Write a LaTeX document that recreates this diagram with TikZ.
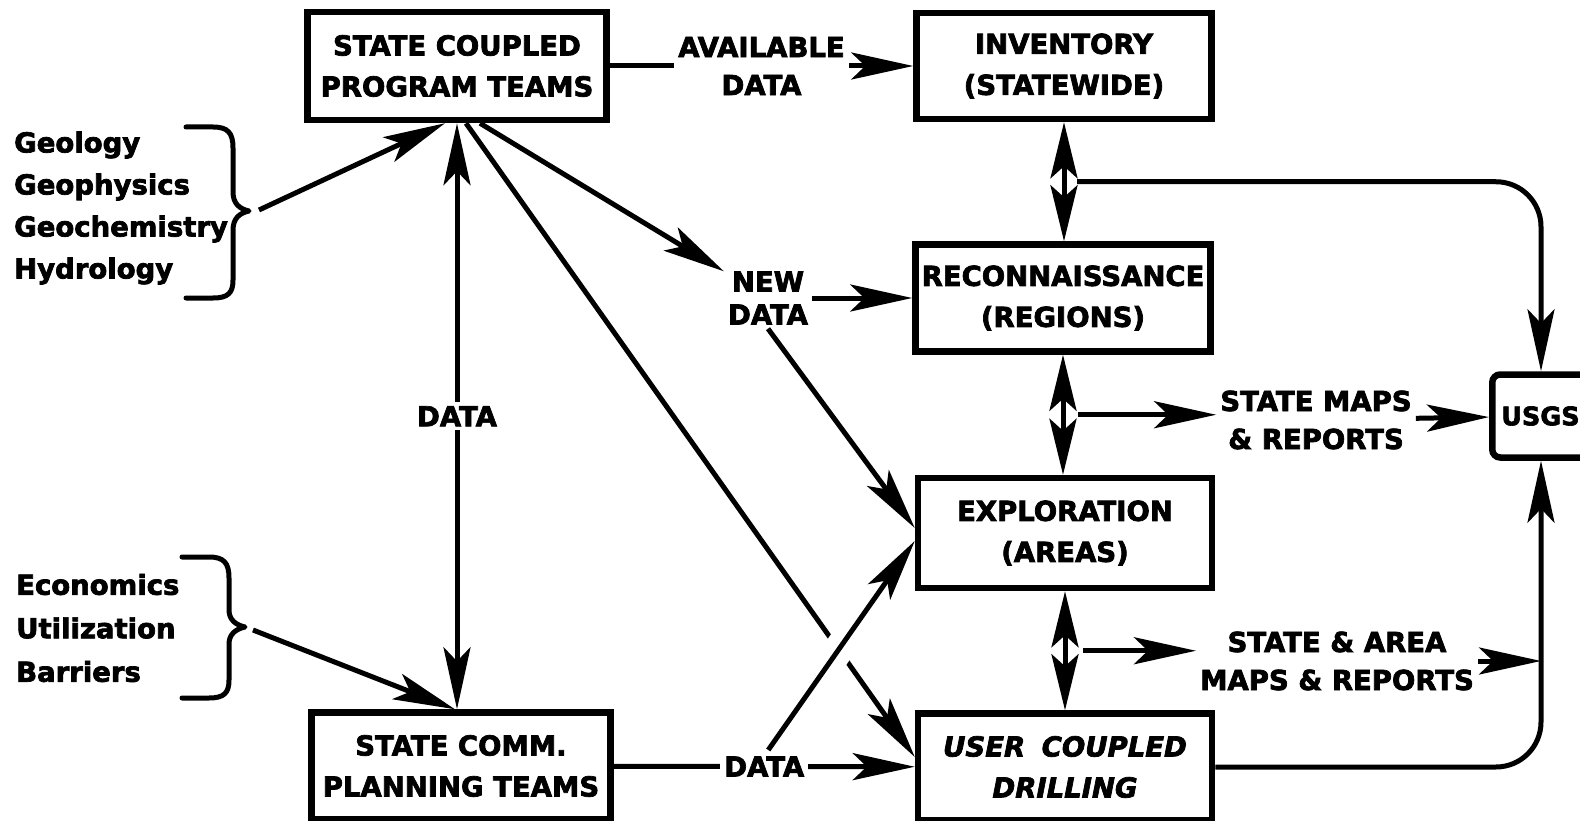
\documentclass[tikz,border=0pt]{standalone}
\usepackage{fontspec}
\setmainfont{DejaVu Sans}[BoldFeatures={FakeBold=2.6},BoldItalicFeatures={FakeBold=2.6}]
\usetikzlibrary{arrows.meta,calc}
\newcommand{\dgfont}{\fontsize{27.5}{41}\selectfont\bfseries}
\newcommand{\dglab}{\fontsize{27.5}{38}\selectfont\bfseries}
\newcommand{\dglist}{\fontsize{27.5}{42}\selectfont\bfseries}
\begin{document}
\begin{tikzpicture}[x=1pt,y=-1pt,
  >={Stealth[length=62pt,width=27pt,inset=14pt]},
  dbl/.style={{Stealth[length=56pt,width=27pt,inset=12pt]}-{Stealth[length=56pt,width=27pt,inset=12pt]}},
  box/.style={draw,line width=6.5pt,inner sep=0pt,align=center,font=\dgfont},
  conn/.style={line width=5pt},
  lab/.style={fill=white,inner sep=4pt,align=center,font=\dglab},
  brace/.style={line width=5pt,line cap=round,line join=round}]
\fill[white] (0,0) rectangle (1580,821);
\useasboundingbox (0,0) rectangle (1580,821);

% boxes
\node[box,minimum width=299pt,minimum height=108pt] (scpt) at (457,66) {STATE COUPLED\\PROGRAM TEAMS};
\node[box,minimum width=295pt,minimum height=106pt] (inv) at (1064,66) {INVENTORY\\(STATEWIDE)};
\node[box,minimum width=295pt,minimum height=107pt] (rec) at (1063,298) {RECONNAISSANCE\\(REGIONS)};
\node[box,minimum width=294pt,minimum height=110pt] (expl) at (1065,533) {EXPLORATION\\(AREAS)};
\node[box,minimum width=294pt,minimum height=107pt,font=\dgfont\itshape] (ucd) at (1065,767) {USER\hspace{0.6em}COUPLED\\DRILLING};
\node[box,minimum width=299pt,minimum height=107pt] (scomm) at (461,766) {STATE COMM.\\PLANNING TEAMS};
\node[box,rounded corners=8pt,anchor=west,minimum height=83pt,text width=100pt,align=left,inner xsep=9pt,font=\fontsize{25.5}{30}\selectfont\bfseries] (usgs) at (1489,416) {USGS};

% lists
\node[anchor=west,align=left,font=\dglist,inner sep=0pt] (geo) at (14,208) {Geology\\Geophysics\\Geochemistry\\Hydrology};
\node[anchor=west,align=left,font=\fontsize{27.5}{43.5}\selectfont\bfseries,inner sep=0pt] (eco) at (16,628) {Economics\\Utilization\\Barriers};

% braces
\draw[brace] (186,127) -- (213,127) .. controls (228,127) and (233,133) .. (233,148) -- (233,192) .. controls (233,204) and (240,209) .. (249,211) .. controls (240,213) and (233,218) .. (233,230) -- (233,280) .. controls (233,293) and (228,298) .. (213,298) -- (186,298);
\coordinate (b1) at (259,210);
\draw[brace] (182,557) -- (209,557) .. controls (224,557) and (229,563) .. (229,578) -- (229,610) .. controls (229,620) and (236,625) .. (245,627) .. controls (236,629) and (229,634) .. (229,644) -- (229,680) .. controls (229,693) and (224,698) .. (209,698) -- (182,698);
\coordinate (b2) at (253,630);

% labels
\node[lab,font=\fontsize{27.5}{33}\selectfont\bfseries] (newd) at (768,298) {NEW\\DATA};
\node[lab] (smr) at (1316,420) {STATE MAPS\\\& REPORTS};
\node[lab] (sa) at (1337,661) {STATE \& AREA\\MAPS \& REPORTS};
\coordinate (ux) at (1541,0);

% left connectors
\draw[conn,->] (b1) -- ($(scpt.south)+(-12,0)$);
\draw[conn,->] (b2) -- ($(scomm.north)+(-6,0)$);
\draw[conn,<->] (scpt.south) -- node[lab]{DATA} (scpt.south |- scomm.north);
\draw[conn,->] (scpt) -- node[lab]{AVAILABLE\\DATA} (inv);
\draw[conn,->] ($(scpt.south)+(23,0)$) -- (newd);
\draw[conn,->] (newd) -- (rec);
\draw[conn,->] (newd.south) -- ($(expl.west)+(0,-5)$);
\draw[conn,->] ($(scpt.south)+(9,0)$) -- ($(ucd.west)+(0,-10)$);
\draw[conn,->] (scomm) -- node[lab] (dlab) {DATA} (ucd);
\coordinate (d0) at ($(dlab.north)+(4,0)$);
\coordinate (d1) at ($(expl.west)+(0,8)$);
\draw[white,line width=30pt] ($(d0)!0.4!(d1)$) -- ($(d0)!0.57!(d1)$);
\draw[conn,->] (d0) -- (d1);

% right connectors
\draw[conn,dbl] (inv.south) -- (inv.south |- rec.north);
\coordinate (m1) at ($(inv.south)!0.5!(inv.south |- rec.north)+(13,0)$);
\draw[conn,->,rounded corners=45pt] (m1) -| (ux |- usgs.north);
\draw[conn,dbl] (rec.south) -- (rec.south |- expl.north);
\coordinate (m2) at ($(rec.south)!0.5!(rec.south |- expl.north)+(15,0)$);
\draw[conn,->] (m2) -- (m2 -| smr.west);
\draw[conn,->] (smr) -- (usgs);
\draw[conn,dbl] (expl.south) -- (expl.south |- ucd.north);
\coordinate (m3) at ($(expl.south)!0.5!(expl.south |- ucd.north)+(18,0)$);
\draw[conn,->] (m3) -- (m3 -| sa.west);
\draw[conn,->] (sa.east) -- (sa.east -| ux);
\draw[conn,->,rounded corners=45pt] (ucd.east) -| (ux |- usgs.south);
\end{tikzpicture}
\end{document}
